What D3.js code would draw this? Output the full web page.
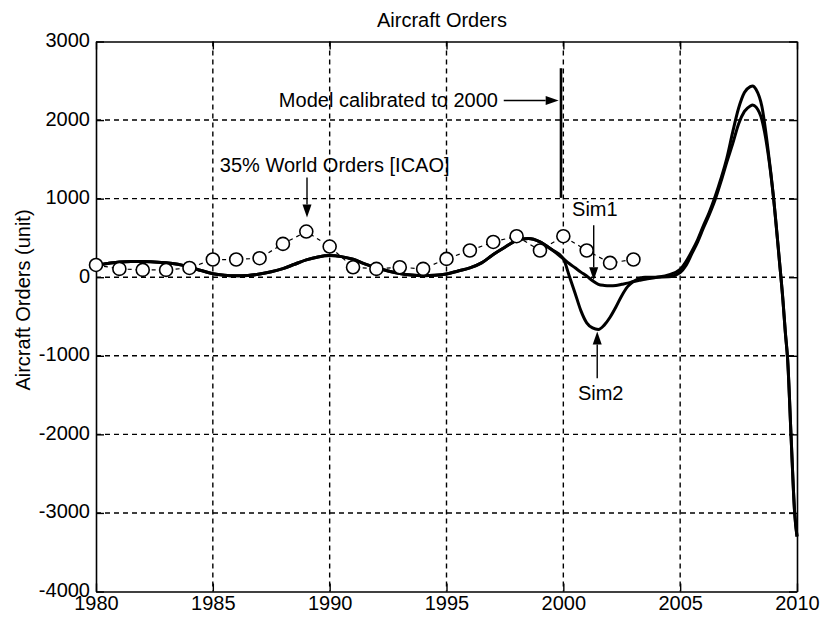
<!DOCTYPE html>
<html><head><meta charset="utf-8">
<script src="https://cdn.jsdelivr.net/npm/d3@7"></script>
<style>
body{margin:0;background:#fff}
svg{display:block}
text{font-family:"Liberation Sans",Arial,Helvetica,sans-serif;fill:#000}
</style>
</head><body>
<svg id="chart" width="821" height="621"></svg>
<script>
// ---- data ----
const title = "Aircraft Orders";
const yLabel = "Aircraft Orders (unit)";
const xTicks = [1980, 1985, 1990, 1995, 2000, 2005, 2010];
const yTicks = [-4000, -3000, -2000, -1000, 0, 1000, 2000, 3000];

// ICAO observed orders (35% of world orders)
const icaoYears = [1980,1981,1982,1983,1984,1985,1986,1987,1988,1989,1990,1991,1992,1993,1994,1995,1996,1997,1998,1999,2000,2001,2002,2003];
const icaoOrders = [156,106,93,93,118,225,225,242,424,581,390,127,106,127,106,233,340,449,522,340,522,340,182,225];

// model (shared by both simulations) up to 2000
const modelYears = [1980,1980.5,1981,1981.5,1982,1982.5,1983,1983.5,1984,1984.5,1985,1985.5,1986,1986.5,1987,1987.5,1988,1988.5,1989,1989.5,1990,1990.5,1991,1991.5,1992,1992.5,1993,1993.5,1994,1994.5,1995,1995.5,1996,1996.5,1997,1997.5,1998,1998.5,1999,1999.5];
const modelValues = [150,175,195,200,200,195,185,165,130,85,45,25,18,22,40,70,110,165,220,258,275,262,228,170,120,80,48,28,20,25,42,80,118,182,289,382,467,492,450,352];

// simulations from 2000 onwards
const simYears = [2000,2000.25,2000.5,2000.75,2001,2001.25,2001.5,2001.75,2002,2002.25,2002.5,2002.75,2003,2003.25,2003.5,2004,2004.5,2005,2005.25,2005.5,2005.75,2006,2006.25,2006.5,2006.75,2007,2007.25,2007.5,2007.75,2008,2008.1,2008.25,2008.5,2008.75,2009,2009.25,2009.4,2009.5,2009.6,2009.75,2009.9,2010];
const sim1Values = [235,175,120,65,15,-45,-90,-105,-110,-105,-90,-75,-55,-40,-25,0,30,100,200,330,480,660,830,1030,1260,1520,1850,2150,2350,2425,2435,2390,2170,1650,1000,200,-300,-700,-1050,-2050,-3000,-3300];
const sim2Values = [235,20,-200,-425,-580,-645,-665,-610,-510,-380,-235,-120,-55,-15,0,0,5,60,150,300,450,630,800,990,1220,1470,1700,1950,2110,2180,2193,2165,2000,1600,1000,200,-300,-700,-1050,-2050,-3000,-3300];

// ---- drawing ----
const svg = d3.select("#chart");
const x = d3.scaleLinear().domain([1980, 2010]).range([96, 797]);
const y = d3.scaleLinear().domain([-4000, 3000]).range([591.5, 41.5]);
const FS = 20;
const plain = d => String(d); // hyphen-minus like the reference

// grid
const grid = svg.append("g").attr("stroke", "#000").attr("stroke-width", 1.4).attr("stroke-dasharray", "5,4").attr("fill", "none");
xTicks.slice(1, -1).forEach(t => grid.append("line").attr("x1", x(t)).attr("x2", x(t)).attr("y1", y(3000)).attr("y2", y(-4000)));
yTicks.slice(1, -1).forEach(t => grid.append("line").attr("x1", x(1980)).attr("x2", x(2010)).attr("y1", y(t)).attr("y2", y(t)));

// axes (ticks inside, MATLAB style)
function styleAxis(g) {
  g.selectAll("path.domain").attr("stroke", "#000").attr("stroke-width", 1.6);
  g.selectAll(".tick line").attr("stroke", "#000").attr("stroke-width", 1.4);
  g.selectAll("text").attr("font-size", FS).attr("fill", "#000").style("font-family", '"Liberation Sans",Arial,sans-serif');
}
svg.append("g").attr("transform", `translate(0,${y(-4000)})`)
  .call(d3.axisBottom(x).tickValues(xTicks).tickFormat(plain).tickSize(-8).tickSizeOuter(0).tickPadding(4))
  .call(styleAxis);
svg.append("g").attr("transform", `translate(${x(1980)},0)`)
  .call(d3.axisLeft(y).tickValues(yTicks).tickFormat(plain).tickSize(-8).tickSizeOuter(0).tickPadding(6))
  .call(styleAxis)
  .call(g => g.selectAll("text").attr("dy", "0.25em"));
svg.append("g").attr("transform", `translate(0,${y(3000)})`)
  .call(d3.axisTop(x).tickValues(xTicks).tickFormat("").tickSize(-8).tickSizeOuter(0))
  .call(styleAxis);
svg.append("g").attr("transform", `translate(${x(2010)},0)`)
  .call(d3.axisRight(y).tickValues(yTicks).tickFormat("").tickSize(-8).tickSizeOuter(0))
  .call(styleAxis);

// title & y label
svg.append("text").attr("x", 442).attr("y", 27).attr("text-anchor", "middle").attr("font-size", FS).text(title);
svg.append("text").attr("transform", "translate(30,300) rotate(-90)").attr("text-anchor", "middle").attr("font-size", FS).text(yLabel);

// ICAO data: dashed connector + open circles
const icao = icaoYears.map((yr, i) => [yr, icaoOrders[i]]);
svg.append("path").datum(icao)
  .attr("fill", "none").attr("stroke", "#000").attr("stroke-width", 1.2).attr("stroke-dasharray", "4,4")
  .attr("d", d3.line().x(d => x(d[0])).y(d => y(d[1])));

// simulation lines
const line = d3.line().x(d => x(d[0])).y(d => y(d[1])).curve(d3.curveMonotoneX);
const model = modelYears.map((yr, i) => [yr, modelValues[i]]);
const sim1 = model.concat(simYears.map((yr, i) => [yr, sim1Values[i]]));
const sim2 = model.concat(simYears.map((yr, i) => [yr, sim2Values[i]]));
[sim2, sim1].forEach(s => svg.append("path").datum(s)
  .attr("fill", "none").attr("stroke", "#000").attr("stroke-width", 3).attr("stroke-linejoin", "round")
  .attr("d", line));

svg.append("g").selectAll("circle").data(icao).join("circle")
  .attr("cx", d => x(d[0])).attr("cy", d => y(d[1])).attr("r", 6.5)
  .attr("fill", "#fff").attr("stroke", "#000").attr("stroke-width", 1.6);

// annotations
function arrow(x1, y1, x2, y2) {
  const ang = Math.atan2(y2 - y1, x2 - x1), L = 13, Wd = 4.5;
  const bx = x2 - L * Math.cos(ang), by = y2 - L * Math.sin(ang);
  svg.append("line").attr("x1", x1).attr("y1", y1).attr("x2", bx).attr("y2", by).attr("stroke", "#000").attr("stroke-width", 1.4);
  svg.append("polygon").attr("fill", "#000").attr("points", [
    [x2, y2],
    [bx + Wd * Math.sin(ang), by - Wd * Math.cos(ang)],
    [bx - Wd * Math.sin(ang), by + Wd * Math.cos(ang)]
  ].map(p => p.join(",")).join(" "));
}
// calibration marker
svg.append("line").attr("x1", x(1999.9)).attr("x2", x(1999.9)).attr("y1", y(2660)).attr("y2", y(1010))
  .attr("stroke", "#000").attr("stroke-width", 2.6);
svg.append("text").attr("x", x(1997.2)).attr("y", y(2250) + 7).attr("text-anchor", "end").attr("font-size", FS).text("Model calibrated to 2000");
arrow(x(1997.45), y(2250), x(1999.8), y(2250));

svg.append("text").attr("x", x(1985.3)).attr("y", y(1345)).attr("font-size", FS).text("35% World Orders [ICAO]");
arrow(x(1989.03), y(1270), x(1989.03), y(760));

svg.append("text").attr("x", x(2001.35)).attr("y", y(776)).attr("text-anchor", "middle").attr("font-size", FS).text("Sim1");
arrow(x(2001.3), y(660), x(2001.3), y(-40));

svg.append("text").attr("x", x(2001.6)).attr("y", y(-1565)).attr("text-anchor", "middle").attr("font-size", FS).text("Sim2");
arrow(x(2001.45), y(-1285), x(2001.45), y(-690));
</script>
</body></html>
